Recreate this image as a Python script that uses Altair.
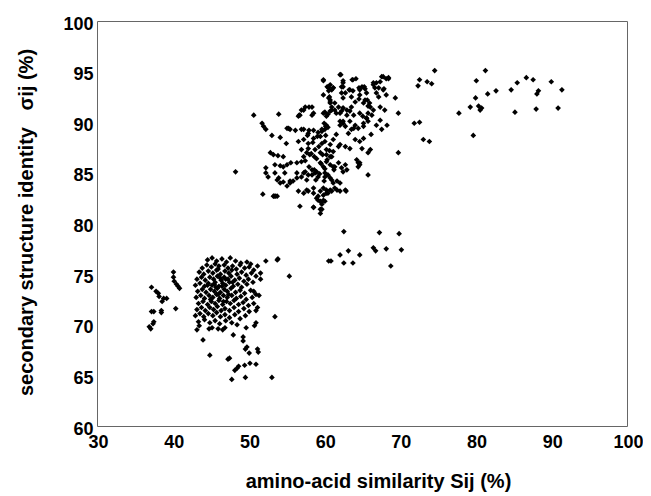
import altair as alt
import pandas as pd

# ---- data (x = amino-acid similarity, y = secondary structure identity) ----
upper_cluster = [
    (48.3, 85.1), (50.7, 90.7), (54.0, 90.8), (51.8, 89.9), (52.0, 89.6), (55.3, 89.4), (56.2, 89.2),
    (57.0, 89.3), (58.0, 89.2), (56.7, 90.7), (57.0, 91.2), (57.5, 91.5), (58.0, 91.5), (58.4, 90.7),
    (59.9, 94.1), (62.1, 94.7), (60.4, 93.5), (60.6, 93.1), (59.9, 92.7), (61.2, 93.4), (60.6, 92.4),
    (60.8, 91.9), (62.5, 93.5), (62.8, 92.9), (60.1, 91.0), (60.5, 90.8), (61.0, 91.2), (61.6, 90.9),
    (62.3, 91.1), (60.0, 89.9), (60.5, 89.5), (60.2, 89.6), (59.2, 89.0), (59.7, 89.3), (62.5, 90.1),
    (64.2, 94.3), (63.8, 94.2), (62.5, 93.9), (62.3, 93.5), (61.0, 93.2),
    (63.4, 93.2), (64.7, 93.2), (65.0, 93.5), (65.4, 93.3), (65.6, 92.9),
    (66.5, 93.7), (66.9, 93.9), (67.2, 93.4), (67.6, 94.5), (68.2, 94.3), (68.5, 94.4),
    (67.8, 93.2), (68.2, 92.7), (60.7, 92.5), (60.8, 92.0), (61.0, 91.5), (62.3, 92.9), (62.5, 92.4),
    (63.6, 92.5), (64.1, 92.0), (64.6, 92.3), (65.2, 91.9), (65.7, 92.2), (66.1, 91.5),
    (57.3, 91.2), (56.8, 90.7), (56.6, 90.6), (58.4, 91.5), (58.6, 90.9),
    (59.9, 90.9), (60.3, 90.6), (60.8, 91.1), (61.4, 91.2), (62.1, 90.9), (62.5, 91.4), (63.0, 90.7),
    (63.4, 91.1), (63.9, 90.7), (64.7, 90.9), (65.1, 90.6), (65.6, 90.4),
    (55.1, 89.4), (55.5, 89.3), (57.3, 89.3), (57.9, 88.9), (58.6, 89.2), (59.7, 89.1), (60.1, 89.3),
    (62.1, 90.1), (62.8, 89.6), (63.4, 90.1), (64.1, 89.7), (64.5, 89.4), (63.6, 89.3), (65.2, 89.9),
    (65.8, 90.1), (66.9, 89.7), (67.4, 90.2), (68.3, 89.7), (67.6, 89.3),
    (51.9, 82.9), (53.3, 82.7), (53.6, 82.7), (52.3, 85.5), (52.3, 85.0), (52.6, 84.6),
    (52.9, 87.0), (53.3, 86.8), (53.9, 86.7), (54.6, 86.6), (52.3, 89.3), (53.1, 88.7), (54.2, 88.5),
    (55.0, 87.9), (53.5, 85.8), (54.2, 85.7), (54.6, 85.6), (55.1, 85.8), (55.6, 86.0),
    (53.8, 84.3), (54.2, 84.0), (54.6, 84.1), (55.1, 83.7), (55.5, 84.0), (55.9, 84.2),
    (56.4, 86.0), (57.0, 86.1), (57.3, 86.6), (57.7, 87.0), (58.1, 86.8), (58.7, 86.6),
    (56.4, 85.0), (57.0, 84.6), (57.5, 85.1), (57.9, 84.8), (58.4, 85.3), (58.8, 85.0), (59.2, 84.6),
    (56.6, 88.1), (57.3, 88.3), (57.9, 87.9), (58.6, 88.4), (59.5, 88.6), (60.1, 88.1), (60.8, 87.8),
    (61.2, 88.3), (57.0, 87.3), (57.9, 87.4), (58.8, 87.3), (59.5, 87.0), (60.3, 86.8), (61.2, 87.1),
    (61.9, 87.6), (59.5, 86.0), (59.9, 85.6), (60.3, 86.1), (60.8, 85.8), (61.4, 85.6), (61.9, 86.0),
    (62.3, 85.5), (62.8, 85.8), (57.7, 83.3), (58.6, 83.5), (59.5, 83.2), (59.9, 83.5), (60.3, 83.0),
    (60.8, 83.3), (61.4, 83.5), (62.1, 83.2), (62.8, 83.3), (59.0, 82.5), (59.5, 82.2), (59.7, 81.9),
    (56.8, 81.7), (58.6, 81.6), (59.5, 81.4), (58.6, 81.6), (59.5, 81.0), (53.4, 82.7), (53.8, 82.7),
    (64.5, 86.0), (64.7, 85.8), (65.8, 84.8), (62.9, 83.2),
    (53.5, 85.0), (54.0, 84.5), (54.8, 85.0), (55.5, 84.2), (56.4, 84.5), (57.3, 85.0), (57.7, 84.3),
    (58.4, 84.8), (59.0, 85.1), (60.1, 84.6), (60.8, 84.5), (61.2, 84.0), (61.7, 83.3), (62.1, 84.0),
    (56.6, 83.2), (57.3, 83.0), (57.9, 83.2), (58.6, 83.0), (59.2, 82.7), (59.9, 82.8), (60.5, 83.0),
    (61.0, 83.2), (59.2, 82.3), (59.6, 82.1), (60.1, 82.2),
    (59.9, 94.2), (60.6, 93.4), (60.8, 93.7), (61.2, 93.4), (62.2, 94.7), (62.5, 94.1), (63.7, 94.2),
    (63.3, 93.2), (63.8, 93.1), (64.6, 93.4), (65.3, 93.5), (66.5, 93.9), (66.7, 93.4), (67.4, 94.0),
    (67.8, 94.5), (68.5, 94.3), (67.9, 93.3), (64.7, 92.7), (65.4, 92.2), (66.9, 92.9), (67.2, 92.5),
    (60.8, 92.2), (61.4, 91.9), (61.9, 91.5), (62.5, 91.4), (63.0, 91.2), (63.6, 91.5),
    (65.8, 91.6), (66.5, 91.2), (67.4, 91.5), (68.0, 91.2), (65.8, 90.9), (66.3, 90.7), (65.6, 90.4),
    (62.1, 89.7), (62.5, 89.9), (63.9, 89.4), (65.2, 89.6), (60.3, 89.7), (66.2, 88.8),
    (62.1, 87.8), (62.8, 87.6), (63.4, 87.4), (64.1, 88.3), (64.7, 88.1), (65.2, 88.4),
    (65.0, 87.4), (66.1, 87.3), (65.8, 87.0), (64.3, 86.3), (64.7, 86.0), (64.5, 85.6),
    (63.0, 85.3), (62.5, 85.1), (60.3, 87.3), (60.8, 86.6), (61.2, 85.6), (60.1, 85.0), (61.0, 84.3),
    (61.7, 84.2), (60.3, 83.3), (59.9, 82.3), (59.7, 81.4),
    (57.5, 86.2), (58.0, 85.6), (58.3, 86.9), (58.7, 85.3), (59.0, 86.4), (59.3, 87.6), (59.6, 85.9),
    (59.8, 86.8), (60.1, 85.4), (60.4, 86.3), (60.7, 87.2), (61.0, 86.6), (58.5, 88.0), (59.1, 88.6),
    (59.7, 87.9), (60.2, 88.7), (57.8, 88.7), (58.9, 84.3), (59.4, 84.9), (60.0, 84.2), (60.5, 84.8),
    (61.3, 85.3), (69.4, 92.4), (69.8, 90.9), (69.8, 87.0), (66.0, 91.9), (63.2, 88.9), (61.6, 88.8),
]

upper_right = [
    (74.6, 95.1), (72.6, 94.2), (72.4, 93.6), (73.6, 94.0), (74.2, 93.8), (71.9, 89.9), (72.6, 90.0),
    (73.1, 88.3), (73.9, 88.1),
]

far_right = [
    (81.3, 95.1), (80.1, 94.1), (80.0, 92.4), (81.6, 92.8), (82.7, 93.1), (77.8, 90.9), (79.3, 91.5),
    (80.4, 91.6), (80.8, 91.4), (80.6, 91.2), (79.7, 88.7), (84.7, 93.2), (85.5, 93.9), (86.7, 94.4),
    (87.6, 94.2), (88.3, 93.1), (88.1, 92.8), (90.0, 94.0), (91.4, 93.2), (85.2, 91.0), (88.0, 91.3),
    (90.9, 91.4),
]

middle_band = [
    (62.6, 79.2), (67.3, 79.1), (69.9, 79.0), (63.2, 77.3), (62.1, 76.9), (66.5, 77.6), (66.8, 77.3),
    (68.2, 77.5), (70.2, 77.4), (64.7, 76.9), (60.6, 76.3), (60.9, 76.3), (62.6, 76.1), (63.8, 76.1),
    (68.8, 75.8), (53.9, 76.5),
]

left_group = [
    (37.2, 73.7), (37.8, 73.3), (38.1, 73.1), (38.2, 72.8), (38.8, 72.6), (39.2, 72.6), (38.6, 72.3),
    (37.2, 71.3), (37.5, 71.3), (38.5, 71.4), (38.5, 71.2), (37.5, 70.3), (37.4, 70.1), (36.9, 69.8),
    (37.1, 69.6), (40.1, 75.2), (40.1, 74.7), (40.2, 74.3), (40.5, 74.0), (40.7, 73.8), (40.9, 73.6),
    (40.4, 71.6),
]

lower_outliers = [
    (44.0, 68.5), (44.9, 67.0), (47.3, 66.6), (47.5, 66.7), (47.8, 64.6), (49.6, 64.8), (53.1, 64.8),
    (48.5, 65.7), (48.7, 65.9), (48.2, 65.5), (49.5, 66.0), (50.2, 66.2), (51.0, 66.1), (49.3, 68.8),
    (49.3, 68.4), (49.6, 67.6), (49.8, 67.8), (50.1, 67.2), (51.2, 67.6), (51.3, 67.3), (48.0, 69.0),
    (49.7, 69.7), (53.5, 70.8), (52.3, 76.3), (53.8, 76.4), (55.4, 74.8), (43.2, 69.5), (43.5, 69.9),
    (44.8, 69.6), (45.2, 69.7), (46.0, 69.6), (46.6, 69.5), (46.9, 69.7), (50.8, 69.9), (51.0, 70.2),
    (51.2, 71.7), (51.0, 71.4), (51.4, 72.9), (51.6, 74.5), (51.6, 75.1), (50.7, 73.3), (50.7, 72.1),
]

lower_cluster = [
    (44.6, 76.4), (45.2, 76.6), (45.8, 76.3), (46.5, 76.5), (47.1, 76.2), (47.6, 76.6), (48.3, 76.3),
    (49.0, 76.1), (49.8, 76.2), (50.3, 76.0),
    (43.9, 75.6), (44.5, 75.9), (45.1, 75.7), (45.6, 76.0), (46.1, 75.8), (46.8, 75.9), (47.3, 75.6),
    (47.9, 75.8), (48.4, 75.5), (48.9, 75.9), (49.5, 75.6), (50.1, 75.7), (50.7, 75.4), (51.2, 75.8),
    (43.5, 75.2), (44.1, 75.0), (44.7, 75.3), (45.3, 75.1), (45.8, 75.4), (46.3, 75.0), (46.9, 75.3),
    (47.4, 75.1), (47.8, 75.4), (48.5, 75.0), (49.1, 75.2), (49.7, 74.9), (50.4, 75.1), (51.0, 74.8),
    (43.2, 74.5), (43.8, 74.7), (44.3, 74.4), (44.9, 74.7), (45.4, 74.5), (45.9, 74.8), (46.4, 74.4),
    (46.8, 74.7), (47.3, 74.5), (47.7, 74.8), (48.2, 74.4), (48.8, 74.6), (49.4, 74.3), (50.0, 74.5),
    (50.6, 74.2),
    (43.0, 73.9), (43.6, 74.1), (44.2, 73.8), (44.7, 74.1), (45.2, 73.9), (45.6, 74.2), (46.1, 73.8),
    (46.6, 74.1), (47.0, 73.9), (47.5, 74.2), (48.0, 73.8), (48.6, 74.0), (49.1, 73.7), (49.8, 74.0),
    (43.3, 73.3), (43.9, 73.5), (44.4, 73.2), (45.0, 73.5), (45.5, 73.3), (45.9, 73.6), (46.3, 73.2),
    (46.8, 73.5), (47.2, 73.3), (47.7, 73.6), (48.3, 73.2), (48.9, 73.4), (49.5, 73.1), (50.3, 73.4),
    (51.0, 73.0),
    (43.1, 72.7), (43.7, 72.9), (44.2, 72.6), (44.8, 72.9), (45.3, 72.7), (45.8, 73.0), (46.2, 72.6),
    (46.7, 72.9), (47.2, 72.7), (47.8, 72.9), (48.4, 72.6), (49.0, 72.8), (49.7, 72.5), (50.5, 72.7),
    (43.4, 72.1), (44.0, 72.3), (44.6, 72.0), (45.1, 72.3), (45.6, 72.1), (46.1, 72.4), (46.6, 72.0),
    (47.1, 72.3), (47.6, 72.1), (48.1, 72.4), (48.7, 72.0), (49.3, 72.2), (50.0, 71.9),
    (43.2, 71.5), (43.8, 71.7), (44.3, 71.4), (44.9, 71.7), (45.4, 71.5), (45.9, 71.8), (46.4, 71.4),
    (46.9, 71.6), (47.5, 71.4), (48.1, 71.7), (48.7, 71.3), (49.4, 71.6), (50.1, 71.3),
    (43.0, 70.9), (43.6, 71.1), (44.1, 70.8), (44.7, 71.1), (45.3, 70.9), (45.8, 71.2), (46.3, 70.8),
    (46.9, 71.0), (47.5, 70.7), (48.2, 71.0), (48.9, 70.6), (49.6, 70.9),
    (43.4, 70.3), (44.2, 70.5), (44.9, 70.2), (45.6, 70.4), (46.2, 70.1), (47.0, 70.4), (47.8, 70.2),
    (48.5, 70.0),
    (45.5, 74.0), (46.0, 73.0), (46.5, 73.8), (47.0, 74.5), (45.0, 72.5), (46.7, 72.3), (45.7, 73.7),
    (46.3, 74.6), (47.4, 73.0), (44.6, 73.9), (47.9, 74.2), (46.0, 75.5),
]

x_ticks = [30, 40, 50, 60, 70, 80, 90, 100]
y_ticks = [60, 65, 70, 75, 80, 85, 90, 95, 100]

x_title = "amino-acid similarity Sij (%)"
y_title = "secondary structure identity\u00a0\u00a0\u00a0σij (%)"

# ---- build table ----
all_points = upper_cluster + upper_right + far_right + middle_band + left_group + lower_outliers + lower_cluster
df = pd.DataFrame({"x": [p[0] for p in all_points], "y": [p[1] for p in all_points]})

FONT = "Liberation Sans"

chart = (
    alt.Chart(df)
    .mark_point(shape="diamond", filled=True, color="black", size=32, opacity=1)
    .encode(
        x=alt.X(
            "x:Q",
            scale=alt.Scale(domain=[30, 100], nice=False, zero=False),
            axis=alt.Axis(
                values=x_ticks, title=x_title, grid=False, domain=False, ticks=False,
                labelFont=FONT, labelFontSize=18, labelFontWeight="bold", labelColor="black",
                labelPadding=7, labelOffset=1, labelFlush=False,
                titleFont=FONT, titleFontSize=20, titleFontWeight="bold", titleColor="black",
                titleX=281, titleY=61, titleBaseline="alphabetic", titleAlign="center",
            ),
        ),
        y=alt.Y(
            "y:Q",
            scale=alt.Scale(domain=[60, 100], nice=False, zero=False),
            axis=alt.Axis(
                values=y_ticks, title=y_title, grid=False, domain=False, ticks=False,
                labelFont=FONT, labelFontSize=18, labelFontWeight="bold", labelColor="black",
                labelPadding=4, labelOffset=3, labelFlush=False,
                titleFont=FONT, titleFontSize=20, titleFontWeight="bold", titleColor="black",
                titleX=-71, titleY=201, titleBaseline="middle", titleAlign="center", titleAngle=270,
            ),
        ),
    )
    .properties(
        width=530,
        height=405,
        autosize=alt.AutoSizeParams(type="none"),
        padding={"left": 89, "top": 13, "right": 16, "bottom": 66},
        background="white",
    )
    .configure_view(stroke="#666666", strokeWidth=1)
)

chart.save("out.html", embed_options={"renderer": "svg", "actions": False})
